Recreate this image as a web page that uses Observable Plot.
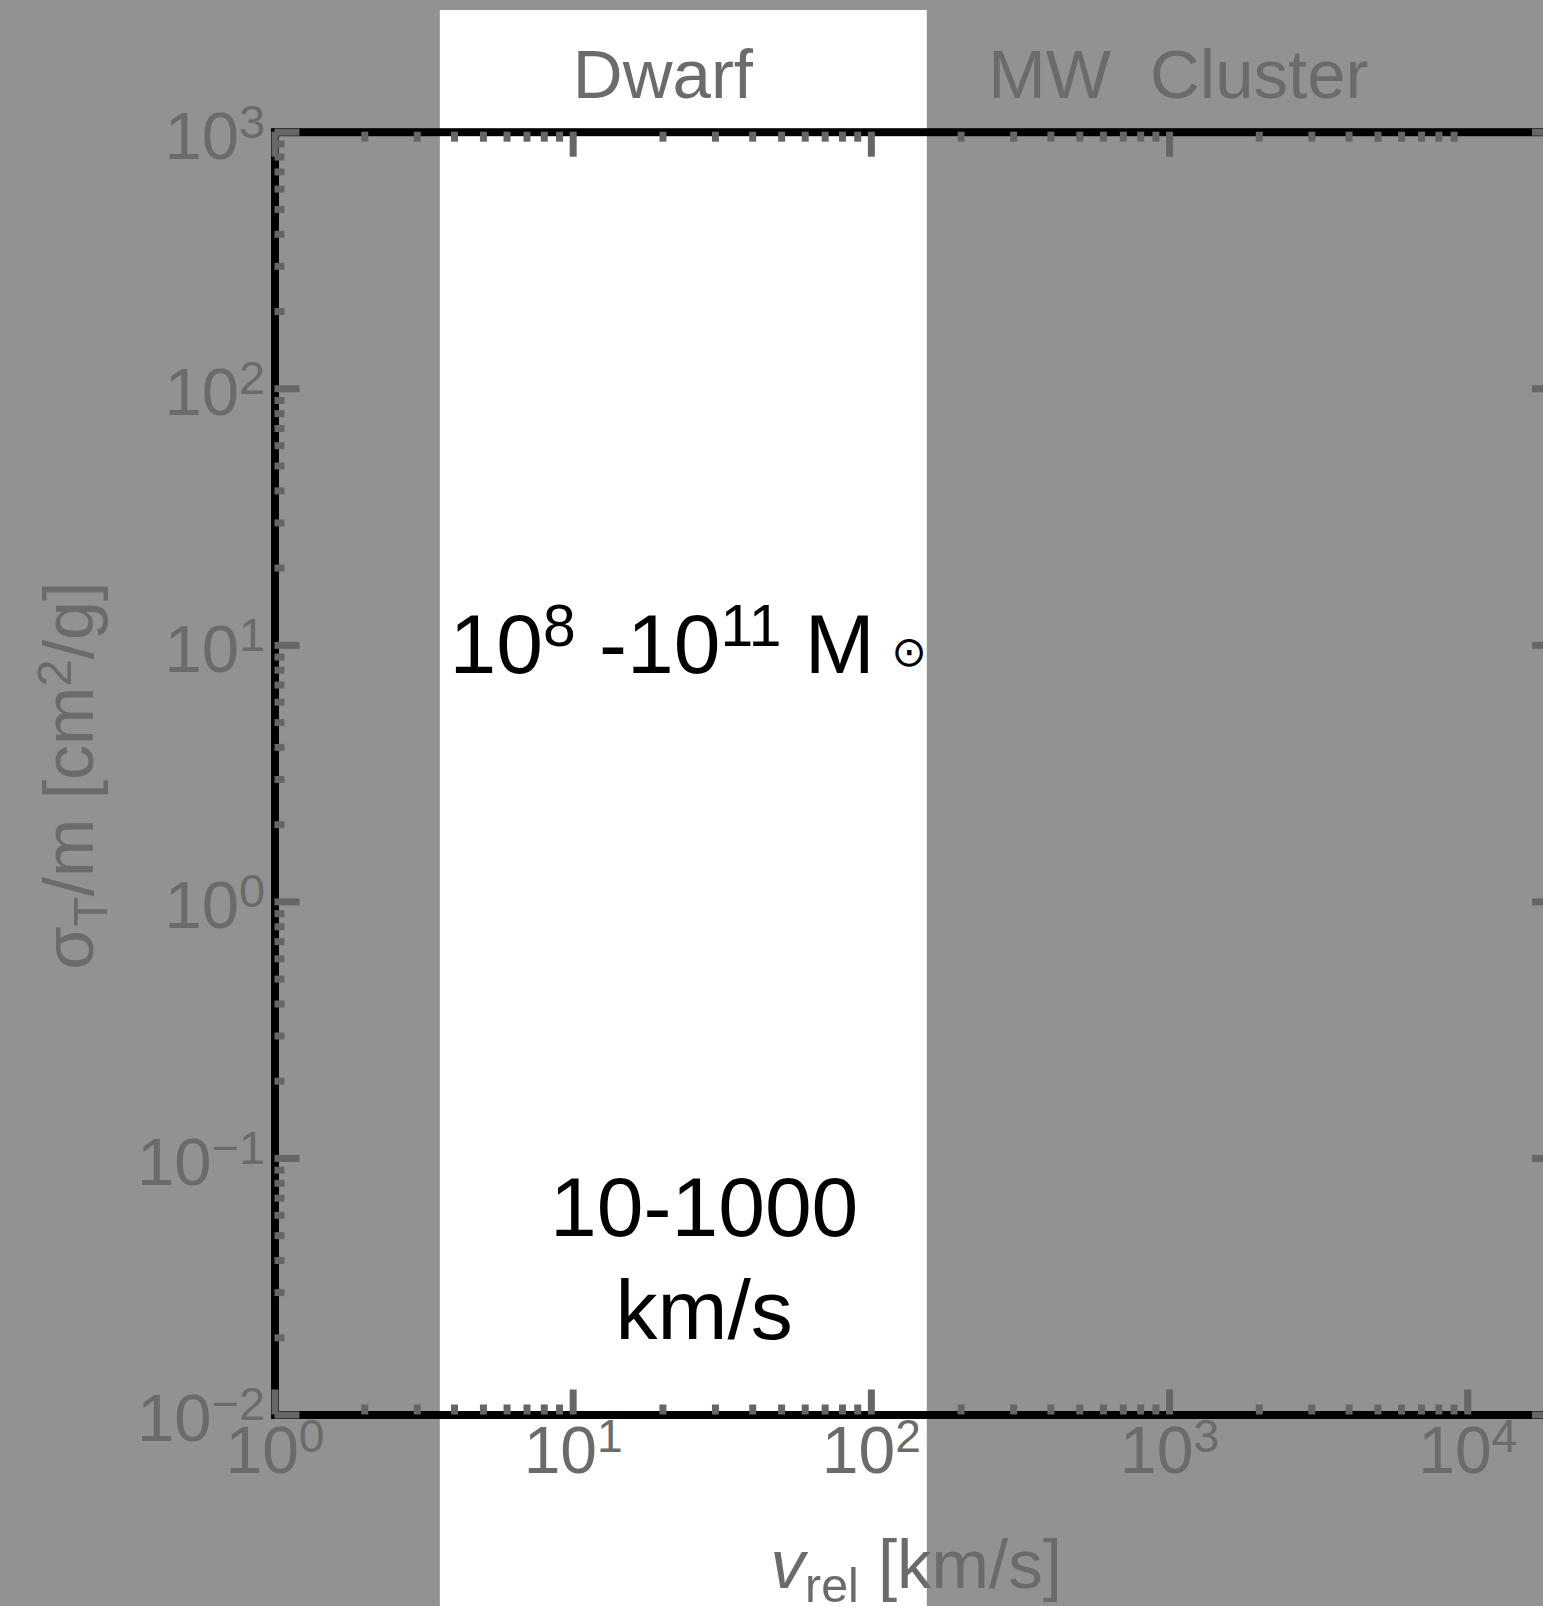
<!DOCTYPE html>
<html><head><meta charset="utf-8">
<script src="https://cdn.jsdelivr.net/npm/d3@7"></script>
<script src="https://cdn.jsdelivr.net/npm/@observablehq/plot@0.6"></script>
<style>
html,body{margin:0;padding:0;background:#929292;overflow:hidden;}
#wrap{width:1543px;height:1606px;overflow:hidden;position:relative;}
#wrap svg{max-width:none !important;}
</style></head><body><div id="wrap"></div>
<script>
// ---- data ----
const xMajorTicks = [1, 10, 100, 1000, 10000];
const xTopMajorTicks = [1, 10, 100, 1000];
const xMinorTicks = [2,3,4,5,6,7,8,9, 20,30,40,50,60,70,80,90, 200,300,400,500,600,700,800,900, 2000,3000,4000,5000,6000,7000,8000,9000];
const yMajorTicks = [0.01, 0.1, 1, 10, 100, 1000];
const yMinorTicks = [0.02,0.03,0.04,0.05,0.06,0.07,0.08,0.09, 0.2,0.3,0.4,0.5,0.6,0.7,0.8,0.9, 2,3,4,5,6,7,8,9, 20,30,40,50,60,70,80,90, 200,300,400,500,600,700,800,900];
const xTickLabels = ["10^{0}", "10^{1}", "10^{2}", "10^{3}", "10^{4}"];
const yTickLabels = ["10^{\u22122}", "10^{\u22121}", "10^{0}", "10^{1}", "10^{2}", "10^{3}"];
const xDomain = [1, 20000];
const yDomain = [0.01, 1000];

const regionNames = ["Dwarf", "MW", "Cluster"];
const regionV = [20, 396, 2000];
const regionSigma = [1659, 1659, 1659];

const dwarfBandV = [3.585, 154];
const dwarfBandSigma = [0.001, 2980];

const annotationText = ["10^{8} -10^{11} M\u2009%{\u2299}", "10-1000\nkm/s"];
const annotationV = [24.3, 27.5];
const annotationSigma = [10.5, 0.0421];

const xLabel = "~{v}_{rel} [km/s]";
const yLabel = "\u03c3_{T}/m [cm^{2}/g]";

// ---- layout ----
const W = 1565, H = 1606;
const mL = 274.5, mR = 8, mT = 131.7, mB = 191.5;
const plotW = W - mL - mR, plotH = H - mT - mB;
const tickColor = "#666666";
const textGray = "#6b6b6b";
const font = "'Liberation Sans', Arial, 'DejaVu Sans', sans-serif";
const majorLen = 25, minorLen = 10, tickW = 7;

const regions = regionNames.map((n, i) => ({name: n, v: regionV[i], s: regionSigma[i]}));
const annotations = annotationText.map((t, i) => ({t, v: annotationV[i], s: annotationSigma[i]}));
const band = [{v1: dwarfBandV[0], v2: dwarfBandV[1], s1: dwarfBandSigma[0], s2: dwarfBandSigma[1]}];

const chart = Plot.plot({
  width: W, height: H,
  marginLeft: mL, marginRight: mR, marginTop: mT, marginBottom: mB,
  style: {background: "#929292", fontFamily: font, overflow: "visible", maxWidth: "none"},
  x: {type: "log", domain: xDomain},
  y: {type: "log", domain: yDomain},
  marks: [
    Plot.rect(band, {x1: "v1", x2: "v2", y1: "s1", y2: "s2", fill: "white"}),
    Plot.frame({stroke: "black", strokeWidth: 8}),
    // bottom ticks
    Plot.tickX(xMajorTicks, {x: d => d, stroke: tickColor, strokeWidth: tickW, insetTop: plotH - majorLen}),
    Plot.tickX(xMinorTicks, {x: d => d, stroke: tickColor, strokeWidth: tickW, insetTop: plotH - minorLen}),
    // top ticks
    Plot.tickX(xTopMajorTicks, {x: d => d, stroke: tickColor, strokeWidth: tickW, insetBottom: plotH - majorLen}),
    Plot.tickX(xMinorTicks, {x: d => d, stroke: tickColor, strokeWidth: tickW, insetBottom: plotH - minorLen}),
    // left ticks
    Plot.tickY(yMajorTicks, {y: d => d, stroke: tickColor, strokeWidth: tickW, insetRight: plotW - majorLen}),
    Plot.tickY(yMinorTicks, {y: d => d, stroke: tickColor, strokeWidth: tickW, insetRight: plotW - minorLen}),
    // right ticks
    Plot.tickY(yMajorTicks, {y: d => d, stroke: tickColor, strokeWidth: tickW, insetLeft: plotW - majorLen}),
    Plot.tickY(yMinorTicks, {y: d => d, stroke: tickColor, strokeWidth: tickW, insetLeft: plotW - minorLen}),
    Plot.axisX({anchor: "bottom", ticks: xMajorTicks, tickSize: 0, tickPadding: 11,
      tickFormat: d => xTickLabels[xMajorTicks.indexOf(d)], fontSize: 66, fill: textGray, label: null}),
    Plot.axisY({anchor: "left", ticks: yMajorTicks, tickSize: 0, tickPadding: 10, dy: 5,
      tickFormat: d => yTickLabels[yMajorTicks.indexOf(d)], fontSize: 67, fill: textGray, label: null}),
    Plot.text(regions, {x: "v", y: "s", text: "name", fontSize: 69, fill: textGray}),
    Plot.text(annotations, {x: "v", y: "s", text: "t", fontSize: 84, fill: "black", lineHeight: 1.22}),
    Plot.text([xLabel], {frameAnchor: "bottom", textAnchor: "middle", lineAnchor: "middle", dy: 151, text: d => d, fontSize: 69, fill: textGray}),
    Plot.text([yLabel], {frameAnchor: "left", textAnchor: "middle", lineAnchor: "middle", dx: -204, dy: 2, rotate: -90, text: d => d, fontSize: 70, fill: textGray})
  ]
});
document.getElementById("wrap").appendChild(chart);

// ---- rich text: ^{sup} _{sub} ~{italic} %{small} ----
function richify(root) {
  const SVGNS = "http://www.w3.org/2000/svg";
  const walker = document.createTreeWalker(root, NodeFilter.SHOW_TEXT);
  const nodes = [];
  while (walker.nextNode()) nodes.push(walker.currentNode);
  const re = /([\^_~%])\{([^}]*)\}/g;
  for (const node of nodes) {
    const s = node.nodeValue;
    if (!/[\^_~%]\{/.test(s)) continue;
    const parent = node.parentNode;
    const fs = parseFloat(getComputedStyle(parent).fontSize) || 16;
    const frag = document.createDocumentFragment();
    let last = 0, m;
    re.lastIndex = 0;
    while ((m = re.exec(s))) {
      if (m.index > last) frag.appendChild(document.createTextNode(s.slice(last, m.index)));
      const t = document.createElementNS(SVGNS, "tspan");
      t.textContent = m[2];
      if (m[1] === "^") {
        t.setAttribute("font-size", (fs * 0.7) + "px");
        t.setAttribute("baseline-shift", (fs * 0.32) + "px");
      } else if (m[1] === "_") {
        t.setAttribute("font-size", (fs * 0.7) + "px");
        t.setAttribute("baseline-shift", (-fs * 0.2) + "px");
      } else if (m[1] === "~") {
        t.setAttribute("font-style", "italic");
      } else if (m[1] === "%") {
        t.setAttribute("font-size", (fs * 0.5) + "px");
        t.setAttribute("baseline-shift", (fs * 0.08) + "px");
      }
      frag.appendChild(t);
      last = re.lastIndex;
    }
    if (last < s.length) frag.appendChild(document.createTextNode(s.slice(last)));
    parent.replaceChild(frag, node);
  }
}
richify(chart);
</script></body></html>
